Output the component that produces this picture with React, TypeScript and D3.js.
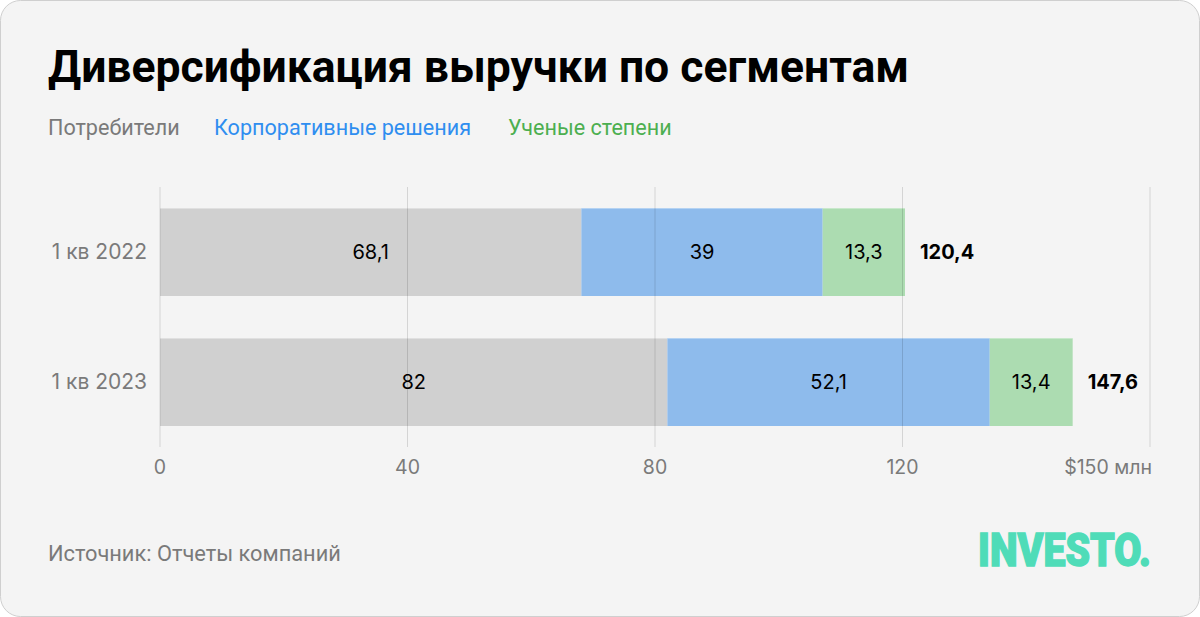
import React from "react";
import * as d3 from "d3";

const categories = ["1 кв 2022", "1 кв 2023"];
const seriesNames = ["Потребители", "Корпоративные решения", "Ученые степени"];
const consumers = [68.1, 82];
const enterprise = [39, 52.1];
const degrees = [13.3, 13.4];
const totals = [120.4, 147.6];
const tickValues = [0, 40, 80, 120, 160];
const tickLabels = ["0", "40", "80", "120", "$150 млн"];

const W = 1200;
const H = 617;
const barColors = ["#d0d0d0", "#8ebbec", "#acdcb1"];
const legendColors = ["#7a7a7a", "#2f8ef0", "#4caf50"];
const fmt = (v: number) => String(v).replace(".", ",");

export default function App() {
  const x = d3.scaleLinear().domain([0, 160]).range([160, 1150]);
  const y = d3
    .scaleBand<string>()
    .domain(categories)
    .range([187, 447])
    .paddingInner(0.323)
    .paddingOuter(0.1615);

  const rows = categories.map((c, i) => ({
    cat: c,
    consumers: consumers[i],
    enterprise: enterprise[i],
    degrees: degrees[i],
  }));
  const keys = ["consumers", "enterprise", "degrees"];
  const series = [consumers, enterprise, degrees];
  const stacked = d3.stack<any>().keys(keys)(rows);

  const valueFont = "Inter, 'Noto Sans', sans-serif";
  const textFont = "Roboto, 'Liberation Sans', sans-serif";

  const legendX = [48, 214, 508];

  return (
    <div style={{ position: "fixed", left: 0, top: 0, width: W, height: H, background: "#fff" }}>
      <svg width={W} height={H} style={{ display: "block" }}>
        <rect x={0.5} y={0.5} width={W - 1} height={H - 1} rx={20} ry={20} fill="#f4f4f4" stroke="#cfcfcf" />
        <text x={48} y={82} fontFamily={textFont} fontWeight={700} fontSize={44.5} fill="#000">
          Диверсификация выручки по сегментам
        </text>
        {seriesNames.map((s, i) => (
          <text key={s} x={legendX[i]} y={135} fontFamily={textFont} fontSize={21.6} fill={legendColors[i]}>
            {s}
          </text>
        ))}

        {stacked.map((layer, li) =>
          layer.map((d, i) => {
            const x0 = x(d[0]);
            const x1 = x(d[1]);
            const yy = y(categories[i])!;
            return (
              <g key={`${li}-${i}`}>
                <rect x={x0} y={yy} width={x1 - x0} height={y.bandwidth()} fill={barColors[li]} />
                <line x1={x0} x2={x1} y1={yy + 0.5} y2={yy + 0.5} stroke="#ffffff" strokeOpacity={0.35} />
              </g>
            );
          })
        )}

        {tickValues.map((t) => (
          <line key={t} x1={x(t)} x2={x(t)} y1={187} y2={447} stroke="#000" strokeOpacity={0.13} strokeWidth={1} />
        ))}

        {stacked.map((layer, li) =>
          layer.map((d, i) => (
            <text
              key={`v-${li}-${i}`}
              x={(x(d[0]) + x(d[1])) / 2}
              y={y(categories[i])! + y.bandwidth() / 2}
              dy="0.35em"
              textAnchor="middle"
              fontFamily={valueFont}
              fontSize={20}
              fill="#000"
            >
              {fmt(series[li][i])}
            </text>
          ))
        )}

        {totals.map((t, i) => (
          <text
            key={`t-${i}`}
            x={x(stacked[2][i][1]) + 15}
            y={y(categories[i])! + y.bandwidth() / 2}
            dy="0.35em"
            fontFamily={valueFont}
            fontWeight={700}
            fontSize={20}
            fill="#000"
          >
            {fmt(t)}
          </text>
        ))}

        {categories.map((c) => (
          <text
            key={c}
            x={147}
            y={y(c)! + y.bandwidth() / 2}
            dy="0.35em"
            textAnchor="end"
            fontFamily={valueFont}
            fontSize={21}
            fill="#7a7a7a"
          >
            {c}
          </text>
        ))}

        {tickValues.map((t, i) => (
          <text
            key={`tl-${t}`}
            x={i === tickValues.length - 1 ? x(t) + 2 : x(t)}
            y={467}
            dy="0.35em"
            textAnchor={i === tickValues.length - 1 ? "end" : "middle"}
            fontFamily={valueFont}
            fontSize={19.5}
            fill="#7a7a7a"
          >
            {tickLabels[i]}
          </text>
        ))}

        <text x={48} y={561} fontFamily={textFont} fontSize={21.8} fill="#7a7a7a">
          Источник: Отчеты компаний
        </text>
        <text
          x={978}
          y={566}
          fontFamily="Roboto, sans-serif"
          fontWeight={900}
          fontSize={47}
          fill="#4fdcb8"
          stroke="#4fdcb8"
          strokeWidth={1.5}
          textLength={173}
          lengthAdjust="spacingAndGlyphs"
        >
          INVESTO.
        </text>
      </svg>
    </div>
  );
}
